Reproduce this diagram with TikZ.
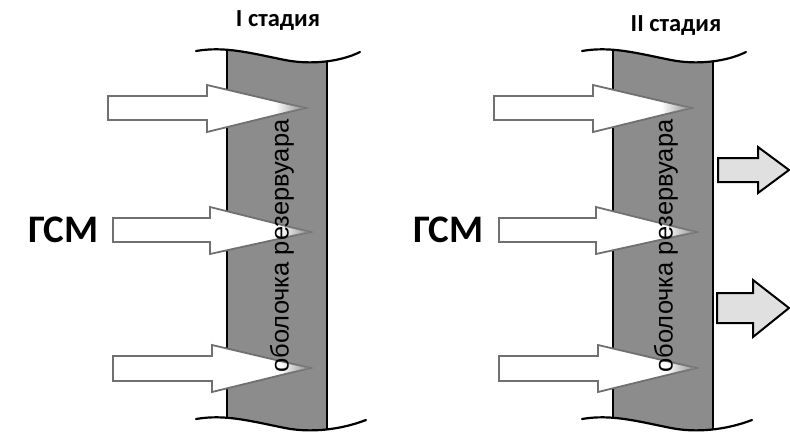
\documentclass[tikz,border=0pt]{standalone}
\usepackage{fontspec}
\setmainfont{Liberation Sans}
\newfontfamily\headfont{Carlito}
\usetikzlibrary{calc,fadings}

\definecolor{wallgray}{RGB}{140,140,140}
\definecolor{arrowedge}{RGB}{112,112,112}
\definecolor{outfill}{RGB}{224,224,224}

\tikzfading[name=tipfade, left color=transparent!100, right color=transparent!0]

\tikzset{
  wave/.style={line width=2.2pt, black, line cap=round},
  walledge/.style={line width=2pt, black},
  inarrow/.style={fill=white, draw=arrowedge, line width=1.8pt, line join=miter},
  outarrow/.style={fill=outfill, draw=black, line width=2pt, line join=miter},
  walltext/.style={font=\fontsize{25.5}{25}\selectfont, rotate=90, inner sep=0pt},
  fuel/.style={font=\headfont\bfseries\fontsize{39}{39}\selectfont, anchor=base west, inner sep=0pt},
  stagetitle/.style={font=\headfont\bfseries\fontsize{24.5}{24}\selectfont, anchor=base, inner sep=0pt}
}

% block arrow: style, tail x, shaft top, shaft bottom, head x, head top, head bottom, tip x, tip y
\newcommand\blockArrow[9]{%
  \draw[#1] (#2,#3) -- (#5,#3) -- (#5,#6) -- (#8,#9) -- (#5,#7) -- (#5,#4) -- (#2,#4) -- cycle;}

% incoming arrow whose point blends into the wall
\newcommand\fuelArrow[8]{%
  \blockArrow{inarrow}{#1}{#2}{#3}{#4}{#5}{#6}{#7}{#8}
  \fill[wallgray, path fading=tipfade, fit fading=true]
    ($(#4,#5)!0.7!(#7,#8)$) -- (#7,#8) -- ($(#4,#6)!0.7!(#7,#8)$) -- cycle;}

% one tank-wall section with three incoming fuel arrows
\newcommand\wallPanel{%
  \begin{scope}
    \clip (227,0) rectangle (327,434);
    \fill[wallgray] (198,51) .. controls (225,46) and (250,53) .. (285,60)
      .. controls (310,65) and (340,62) .. (360,52) -- (366,420)
      .. controls (340,430) and (310,433) .. (285,428)
      .. controls (250,421) and (225,414) .. (198,419) -- cycle;
  \end{scope}
  \draw[walledge] (227,49.5) -- (227,417.5);
  \draw[walledge] (327,61.5) -- (327,429.5);
  \draw[wave] (196,51) .. controls (225,46) and (250,53) .. (285,60)
      .. controls (310,65) and (340,62) .. (360,52);
  \draw[wave] (196,419) .. controls (225,414) and (250,421) .. (285,428)
      .. controls (310,433) and (340,430) .. (366,420);
  \fuelArrow{108}{96}{120}{207}{85}{132}{305}{108}
  \fuelArrow{113}{218}{242}{210}{207}{254}{310}{232}
  \fuelArrow{113}{356}{381}{212}{345}{392}{310}{368}
}

\begin{document}
\begin{tikzpicture}[x=1pt, y=-1pt]
  \useasboundingbox (0,0) rectangle (790,434);

  % stage I
  \wallPanel
  \node[walltext] (shellA) at (282,246) {оболочка резервуара};
  \node[fuel] (fuelA) at (28,242) {ГСМ};
  \node[stagetitle] (stageA) at (278,26) {I стадия};

  % stage II
  \begin{scope}[xshift=386pt]
    \wallPanel
    \node[walltext] (shellB) at (280,246) {оболочка резервуара};
    \node[fuel] (fuelB) at (27,242) {ГСМ};
  \end{scope}
  \node[stagetitle] (stageB) at (676,31) {II стадия};

  % leakage through the shell
  \blockArrow{outarrow}{718}{158}{182}{758}{147}{193}{789}{170}
  \blockArrow{outarrow}{717}{293}{323}{753}{280}{337}{789}{308}
\end{tikzpicture}
\end{document}
